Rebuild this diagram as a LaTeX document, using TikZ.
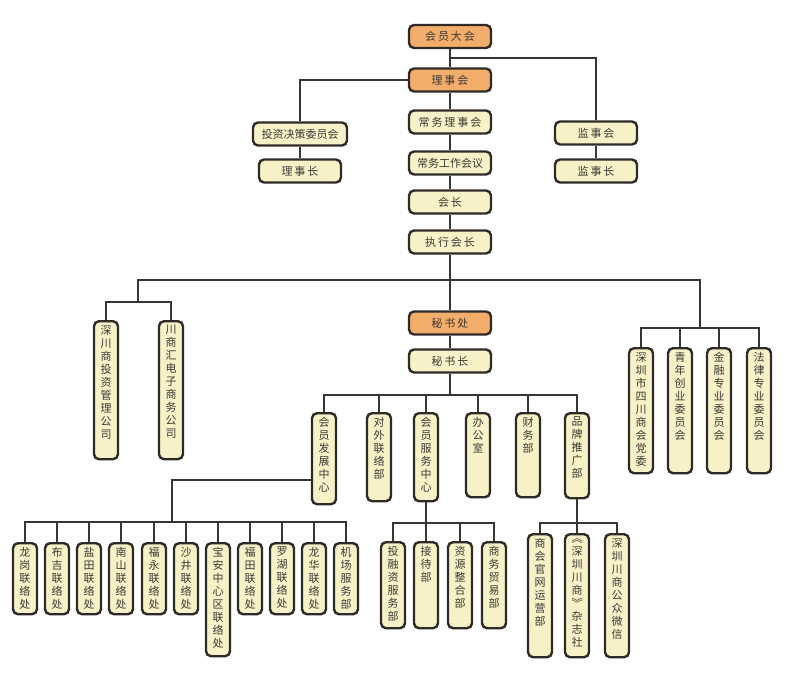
\documentclass[tikz,border=0pt]{standalone}
\usepackage{fontspec}
\setmainfont{Noto Sans CJK SC}
\newfontfamily\hfont[LetterSpace=18]{Noto Sans CJK SC}
\usepackage{tikz}
\usetikzlibrary{positioning,calc}
\definecolor{peach}{HTML}{F3AD6B}
\definecolor{pale}{HTML}{F6F1C6}
\definecolor{edge}{HTML}{2F2A27}
\definecolor{wire}{HTML}{3A3533}
\definecolor{ink}{HTML}{3C3835}
% vertical label: one character per line, top aligned in a box of given height
\def\vtend{\vtend}
\def\vtloop#1{\ifx#1\vtend\else\hbox{#1}\expandafter\vtloop\fi}
\newcommand{\vt}[2]{\vbox to #1pt{\baselineskip=13pt\vskip0.5pt\vtloop#2\vtend\vfil}}

\begin{document}
\begin{tikzpicture}[x=1pt,y=-1pt,
  hb/.style={draw=edge,fill=pale,line width=2.4pt,rounded corners=5pt,
    minimum width=82pt,minimum height=23pt,inner sep=0pt,text=ink,
    font=\hfont\fontsize{11pt}{13pt}\selectfont},
  key/.style={hb,fill=peach},
  vb/.style={draw=edge,fill=pale,line width=2.4pt,rounded corners=5pt,
    minimum width=24pt,inner xsep=0pt,inner ysep=3.5pt,anchor=north,text=ink,
    font=\fontsize{11pt}{13pt}\selectfont},
  ln/.style={draw=wire,line width=2.6pt}]
\useasboundingbox[fill=white] (0,0) rectangle (791,685);
% upper part
\node[key] (dahui) at (450,36.5) {会员大会};
\node[key] (lishihui) at (450,80) {理事会};
\node[hb] (changwu) at (450,122) {常务理事会};
\node[hb,font=\fontsize{11pt}{13pt}\selectfont] (gongzuo) at (450,163) {常务工作会议};
\node[hb] (huizhang) at (450,202) {会长};
\node[hb] (zhixing) at (450,242) {执行会长};
\node[hb,minimum width=94pt,font=\fontsize{11pt}{13pt}\selectfont] (touzi) at (300,134) {投资决策委员会};
\node[hb] (lishizhang) at (300,171) {理事长};
\node[hb] (jianshi) at (596,133) {监事会};
\node[hb] (jianshizhang) at (596,171) {监事长};
\node[key] (mishuchu) at (450,323) {秘书处};
\node[hb] (mishuzhang) at (450,361) {秘书长};
% side groups
\node[vb] (gs1) at (106,320) {\vt{131}{深川商投资管理公司}};
\node[vb] (gs2) at (171,320) {\vt{131}{川商汇电子商务公司}};
\node[vb] (dw) at (641,347) {\vt{118}{深圳市四川商会党委}};
\node[vb] (qn) at (680,347) {\vt{118}{青年创业委员会}};
\node[vb] (jr) at (719,347) {\vt{118}{金融专业委员会}};
\node[vb] (fl) at (759,347) {\vt{118}{法律专业委员会}};
% departments
\node[vb] (hf) at (324,412) {\vt{84}{会员发展中心}};
\node[vb] (dl) at (379,412) {\vt{81}{对外联络部}};
\node[vb] (hs) at (426,412) {\vt{81}{会员服务中心}};
\node[vb] (bg) at (478,412) {\vt{77}{办公室}};
\node[vb] (cw) at (528,412) {\vt{77}{财务部}};
\node[vb] (pp) at (577,412) {\vt{78}{品牌推广部}};
% liaison offices
\node[vb] (lg) at (25,542) {\vt{64}{龙岗联络处}};
\node[vb] (bj) at (57,542) {\vt{64}{布吉联络处}};
\node[vb] (yt) at (89,542) {\vt{64}{盐田联络处}};
\node[vb] (ns) at (121,542) {\vt{64}{南山联络处}};
\node[vb] (fy) at (154,542) {\vt{64}{福永联络处}};
\node[vb] (sj) at (186,542) {\vt{64}{沙井联络处}};
\node[vb] (ba) at (218,542) {\vt{106}{宝安中心区联络处}};
\node[vb] (ft) at (250,542) {\vt{64}{福田联络处}};
\node[vb] (lh) at (282,542) {\vt{64}{罗湖联络处}};
\node[vb] (lhua) at (314,542) {\vt{64}{龙华联络处}};
\node[vb] (jc) at (346,542) {\vt{64}{机场服务部}};
% service and brand
\node[vb] (tr) at (393,541) {\vt{79}{投融资服务部}};
\node[vb] (jd) at (426,541) {\vt{79}{接待部}};
\node[vb] (zy) at (460,541) {\vt{79}{资源整合部}};
\node[vb] (sm) at (494,541) {\vt{79}{商务贸易部}};
\node[vb] (gw) at (540,533) {\vt{116}{商会官网运营部}};
\node[vb] (zz) at (577,533) {\vt{116}{︽深圳川商︾杂志社}};
\node[vb] (wx) at (617,533) {\vt{116}{深圳川商公众微信}};
% junctions
\coordinate (j1) at (450,58);
\coordinate (b1) at (138,280);
\coordinate (b2) at (700,280);
\coordinate (c1) at (138,302);
\coordinate (c2) at (700,328);
\coordinate (d0) at (450,395);
\coordinate (e1) at (172,480);
\coordinate (e0) at (172,522);
\coordinate (f0) at (426,523);
\coordinate (g0) at (577,523);
% connectors
\draw[ln] (dahui)--(lishihui)--(changwu)--(gongzuo)--(huizhang)--(zhixing)
  --(mishuchu)--(mishuzhang)--(d0);
\draw[ln] (jianshi) |- (j1);
\draw[ln] (lishihui) -| (touzi);
\draw[ln] (touzi)--(lishizhang) (jianshi)--(jianshizhang);
\draw[ln] (c1)--(b1)--(b2)--(c2);
\draw[ln] (gs1) |- (c1) -| (gs2);
\draw[ln] (dw) |- (c2) -| (fl);
\draw[ln] (qn)--(qn |- c2) (jr)--(jr |- c2);
\draw[ln] (hf) |- (d0) -| (pp);
\draw[ln] (dl)--(dl |- d0) (hs)--(hs |- d0) (bg)--(bg |- d0) (cw)--(cw |- d0);
\draw[ln] (hf.west |- e1)--(e1)--(e0);
\draw[ln] (lg) |- (e0) -| (jc);
\draw[ln] (bj)--(bj |- e0) (yt)--(yt |- e0) (ns)--(ns |- e0) (fy)--(fy |- e0)
  (sj)--(sj |- e0) (ba)--(ba |- e0) (ft)--(ft |- e0) (lh)--(lh |- e0)
  (lhua)--(lhua |- e0);
\draw[ln] (hs)--(jd);
\draw[ln] (tr) |- (f0) -| (sm);
\draw[ln] (zy)--(zy |- f0);
\draw[ln] (pp)--(zz);
\draw[ln] (gw) |- (g0) -| (wx);
\end{tikzpicture}
\end{document}
